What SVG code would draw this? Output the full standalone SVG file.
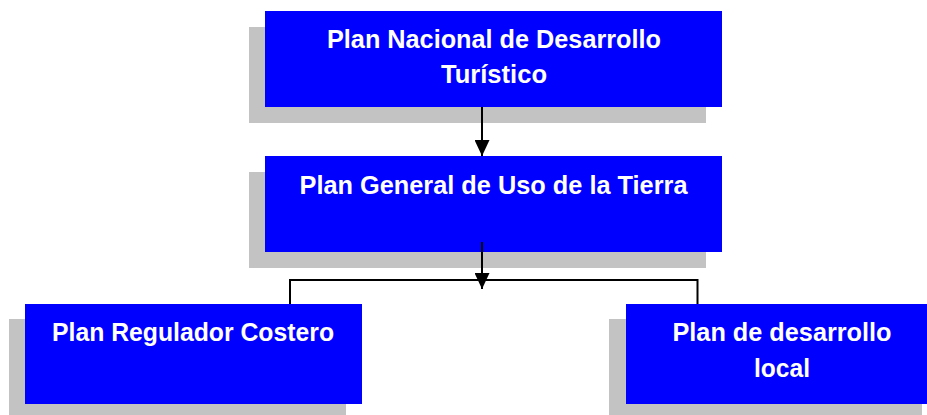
<svg xmlns="http://www.w3.org/2000/svg" width="927" height="415" viewBox="0 0 927 415">
  <style>
    .shadow { fill: #c3c3c3; }
    .box { fill: #0000ff; }
    .lbl { font-family: "Liberation Sans", Arial, sans-serif; font-weight: bold; font-size: 25px; fill: #ffffff; text-anchor: middle; }
    .conn { stroke: #000000; stroke-width: 2; fill: none; }
  </style>
  <defs>
    <marker id="arrow" viewBox="0 0 16 15" refX="16" refY="7.5" markerWidth="16" markerHeight="15" markerUnits="userSpaceOnUse" orient="auto">
      <path d="M0,0 L16,7.5 L0,15 Z" fill="#000000"/>
    </marker>
  </defs>
  <rect x="0" y="0" width="927" height="415" fill="#ffffff"/>

  <g id="node-nacional">
    <rect class="shadow" x="249" y="27" width="457" height="96"/>
    <rect class="box" x="265" y="11" width="457" height="96"/>
    <text class="lbl" x="494" y="48" textLength="334" lengthAdjust="spacingAndGlyphs">Plan Nacional de Desarrollo</text>
    <text class="lbl" x="494" y="83" textLength="106" lengthAdjust="spacingAndGlyphs">Turístico</text>
  </g>

  <g id="node-general">
    <rect class="shadow" x="249" y="172" width="457" height="96"/>
    <rect class="box" x="265" y="156" width="457" height="96"/>
    <text class="lbl" x="493.5" y="194" textLength="388" lengthAdjust="spacingAndGlyphs">Plan General de Uso de la Tierra</text>
  </g>

  <g id="node-costero">
    <rect class="shadow" x="9" y="319" width="337" height="100"/>
    <rect class="box" x="25" y="304" width="337" height="100"/>
    <text class="lbl" x="193" y="341" textLength="282" lengthAdjust="spacingAndGlyphs">Plan Regulador Costero</text>
  </g>

  <g id="node-local">
    <rect class="shadow" x="609" y="319" width="313" height="100"/>
    <rect class="box" x="626" y="304" width="301" height="100"/>
    <text class="lbl" x="782" y="341" textLength="219" lengthAdjust="spacingAndGlyphs">Plan de desarrollo</text>
    <text class="lbl" x="782" y="377" textLength="56" lengthAdjust="spacingAndGlyphs">local</text>
  </g>

  <g id="connectors">
    <line class="conn" x1="482" y1="107" x2="482" y2="156" marker-end="url(#arrow)"/>
    <line class="conn" x1="482" y1="242" x2="482" y2="289" marker-end="url(#arrow)"/>
    <polyline class="conn" points="290,304 290,280 697.5,280 697.5,304"/>
  </g>
</svg>
